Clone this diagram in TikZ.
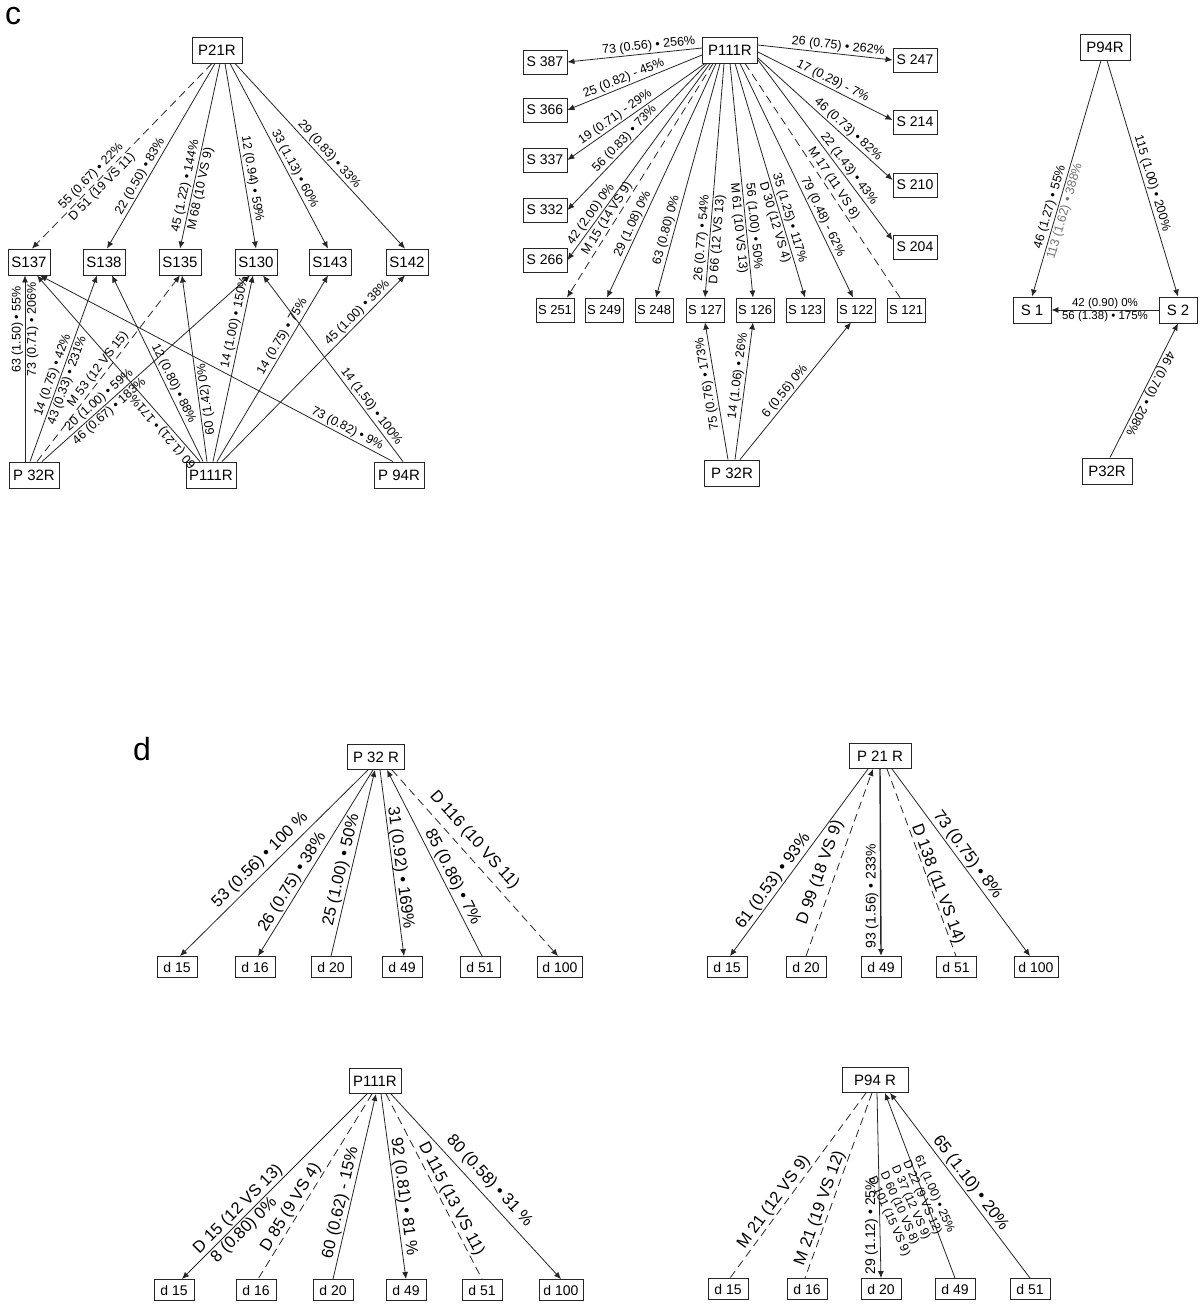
\documentclass[tikz,border=0pt]{standalone}
\usepackage{fontspec}
\setmainfont{Liberation Sans}
\usetikzlibrary{arrows.meta}
\begin{document}
\begin{tikzpicture}[x=1pt,y=-1pt,
  bx/.style={draw=black!85, line width=0.9pt, inner sep=1pt, fill=white},
  pb/.style={bx, minimum width=50pt, minimum height=26pt, font=\fontsize{15}{15}\selectfont},
  sb/.style={bx, minimum width=42pt, minimum height=26pt, font=\fontsize{15}{15}\selectfont},
  mb/.style={bx, minimum width=44pt, minimum height=24pt, font=\fontsize{14}{14}\selectfont},
  nb/.style={bx, minimum width=38pt, minimum height=24pt, font=\fontsize{13}{13}\selectfont},
  db/.style={bx, minimum width=40pt, minimum height=21pt, font=\fontsize{14}{14}\selectfont},
  dp/.style={bx, minimum height=25pt, font=\fontsize{15}{15}\selectfont},
  ln/.style={line width=0.8pt, draw=black!85},
  ar/.style={ln, -{Latex[length=7pt,width=6pt]}},
  dsh/.style={dash pattern=on 8pt off 5pt},
  lb/.style={font=\fontsize{12.5}{13}\selectfont, inner sep=1.5pt, sloped},
  lbn/.style={font=\fontsize{12.5}{13}\selectfont, inner sep=1.5pt},
  lbs/.style={font=\fontsize{11.5}{12}\selectfont, inner sep=1pt},
  lbd/.style={font=\fontsize{16.5}{17}\selectfont, inner sep=1.5pt, sloped},
  lbv/.style={font=\fontsize{14}{14}\selectfont, inner sep=1.5pt},
  upd/.style={allow upside down},
]
\useasboundingbox[fill=white] (0,0) rectangle (1199,1311);

% ---------- panel letters ----------
\node[anchor=base west, inner sep=0pt, font=\fontsize{32}{32}\selectfont] (lc) at (5,25) {c};
\node[anchor=base west, inner sep=0pt, font=\fontsize{32}{32}\selectfont] (ld) at (133,760) {d};

% ---------- c, left graph ----------
\node[pb] (p21a) at (217,50) {P21R};
\node[sb] (s137) at (29,262) {S137};
\node[sb] (s138) at (104,262) {S138};
\node[sb] (s135) at (180,262) {S135};
\node[sb] (s130) at (256,262) {S130};
\node[sb] (s143) at (330,262) {S143};
\node[sb] (s142) at (407,262) {S142};
\node[pb] (p32a) at (34,475) {P 32R};
\node[pb] (p111a) at (211,475) {P111R};
\node[pb] (p94a) at (399,475) {P 94R};

\draw[ar,dsh] ([xshift=-5pt]p21a.south) -- ([xshift=3pt]s137.north)
  node[lb,pos=0.64,above]{55 (0.67) • 22\%} node[lb,pos=0.64,below]{D 51 (19 VS 11)};
\draw[ar] ([xshift=-2pt]p21a.south) -- ([xshift=3pt]s138.north)
  node[lb,pos=0.63,above]{22 (0.50) • 83\%};
\draw[ar] ([xshift=3pt]p21a.south) -- (s135.north)
  node[lb,pos=0.67,above]{45 (1.22) • 144\%} node[lb,pos=0.67,below]{M 68 (10 VS 9)};
\draw[ar] ([xshift=8pt]p21a.south) -- (s130.north)
  node[lb,pos=0.63,above]{12 (0.94) • 59\%};
\draw[ar] ([xshift=13pt]p21a.south) -- ([xshift=-2pt]s143.north)
  node[lb,pos=0.59,above]{33 (1.13) • 60\%};
\draw[ar] ([xshift=18pt]p21a.south) -- ([xshift=-2pt]s142.north)
  node[lb,pos=0.52,above]{29 (0.83) • 33\%};

\draw[ar] ([xshift=-9pt]p32a.north) -- ([xshift=-4pt]s137.south)
  node[lbn,pos=0.71,rotate=90,anchor=south]{63 (1.50) • 55\%}
  node[lbn,pos=0.71,rotate=90,anchor=north]{73 (0.71) • 206\%};
\draw[ar] ([xshift=-4pt]p32a.north) -- ([xshift=-7pt]s138.south)
  node[lb,pos=0.45,above]{14 (0.75) • 42\%} node[lb,pos=0.45,below]{43 (0.33) • 231\%};
\draw[ar,dsh] ([xshift=3pt]p32a.north) -- (s135.south)
  node[lb,pos=0.47,above]{M 53 (12 VS 15)};
\draw[ar] ([xshift=8pt]p32a.north) -- ([xshift=-6pt]s130.south)
  node[lb,pos=0.30,above]{20 (1.00) • 59\%} node[lb,pos=0.30,below]{46 (0.67) • 183\%};
\draw[ar] ([xshift=-11pt]p111a.north) -- ([xshift=8pt]s137.south)
  node[lb,upd,pos=0.19,above]{60 (1.21) • 171\%};
\draw[ar] ([xshift=-8pt]p111a.north) -- ([xshift=8pt]s138.south)
  node[lb,pos=0.40,above]{12 (0.80) • 88\%};
\draw[ar] ([xshift=-4pt]p111a.north) -- ([xshift=2pt]s135.south)
  node[lb,upd,pos=0.33,below]{60 (1.42) 0\%};
\draw[ar] ([xshift=2pt]p111a.north) -- ([xshift=-3pt]s130.south)
  node[lb,pos=0.74,above]{14 (1.00) • 150\%};
\draw[ar] ([xshift=6pt]p111a.north) -- ([xshift=-2pt]s143.south)
  node[lb,pos=0.65,above]{14 (0.75) • 75\%};
\draw[ar] ([xshift=11pt]p111a.north) -- ([xshift=-2pt]s142.south)
  node[lb,pos=0.77,above]{45 (1.00) • 38\%};
\draw[ar] ([xshift=-6pt]p94a.north) -- ([xshift=11pt]s137.south)
  node[lb,pos=0.14,above]{73 (0.82) • 9\%};
\draw[ar] ([xshift=4pt]p94a.north) -- ([xshift=7pt]s130.south)
  node[lb,pos=0.27,above]{14 (1.50) • 100\%};

% ---------- c, middle graph ----------
\node[pb, minimum width=55pt] (p111b) at (730,50) {P111R};
\node[mb] (s387) at (545,62) {S 387};
\node[mb] (s366) at (545,110) {S 366};
\node[mb] (s337) at (545,160) {S 337};
\node[mb] (s332) at (545,210) {S 332};
\node[mb] (s266) at (545,260) {S 266};
\node[mb] (s247) at (915,60) {S 247};
\node[mb] (s214) at (915,122) {S 214};
\node[mb] (s210) at (915,185) {S 210};
\node[mb] (s204) at (915,247) {S 204};
\node[nb] (s251) at (555,310) {S 251};
\node[nb] (s249) at (604,310) {S 249};
\node[nb] (s248) at (654,310) {S 248};
\node[nb] (s127) at (705,310) {S 127};
\node[nb] (s126) at (755,310) {S 126};
\node[nb] (s123) at (805,310) {S 123};
\node[nb] (s122) at (856,310) {S 122};
\node[nb] (s121) at (906,310) {S 121};
\node[pb, minimum width=55pt] (p32b) at (732,473) {P 32R};

\draw[ar] ([yshift=2pt]p111b.west) -- (s387.east)
  node[lb,pos=0.39,above]{73 (0.56) • 256\%};
\draw[ar] ([yshift=-5pt]p111b.west) -- (s366.east)
  node[lb,pos=0.56,above]{25 (0.82) - 45\%};
\draw[ar] ([xshift=3pt]p111b.south west) -- (s337.east)
  node[lb,pos=0.62,above]{19 (0.71) - 29\%};
\draw[ar] ([xshift=5pt]p111b.south west) -- (s332.east)
  node[lb,pos=0.55,above]{56 (0.83) • 73\%};
\draw[ar] ([xshift=8pt]p111b.south west) -- (s266.east)
  node[lb,pos=0.79,above]{42 (2.00) 0\%};
\draw[ar,dsh] ([xshift=11pt]p111b.south west) -- ([xshift=12pt]s251.north)
  node[lb,pos=0.68,above]{M 15 (14 VS 9)};
\draw[ar] ([xshift=14pt]p111b.south west) -- ([xshift=3pt]s249.north)
  node[lb,pos=0.70,above]{29 (1.08) 0\%};
\draw[ar] ([xshift=18pt]p111b.south west) -- ([xshift=2pt]s248.north)
  node[lb,pos=0.72,above]{63 (0.80) 0\%};
\draw[ar] ([xshift=-6pt]p111b.south) -- (s127.north)
  node[lb,pos=0.75,above]{26 (0.77) • 54\%} node[lb,pos=0.75,below]{D 66 (12 VS 13)};
\draw[ar] (p111b.south) -- ([xshift=-2pt]s126.north)
  node[lb,pos=0.70,below]{M 61 (10 VS 13)} node[lb,pos=0.70,above]{56 (1.00) • 50\%};
\draw[ar] ([xshift=5pt]p111b.south) -- (s123.north)
  node[lb,pos=0.67,below]{D 30 (12 VS 4)} node[lb,pos=0.67,above]{35 (1.25) • 117\%};
\draw[ar] ([xshift=10pt]p111b.south) -- ([xshift=-3pt]s122.north)
  node[lb,pos=0.67,above]{79 (0.48) - 62\%};
\draw[ln,dsh] ([xshift=15pt]p111b.south) -- ([xshift=-6pt]s121.north)
  node[lb,pos=0.53,above]{M 17 (11 VS 8)};
\draw[ar] ([yshift=-10pt]p111b.east) -- ([yshift=7pt]s204.west)
  node[lb,pos=0.63,above]{22 (1.43) • 43\%};
\draw[ar] ([yshift=-8pt]p111b.east) -- ([yshift=5pt]s210.west)
  node[lb,pos=0.63,above]{46 (0.73) • 82\%};
\draw[ar] ([yshift=-2pt]p111b.east) -- ([yshift=2pt]s214.west)
  node[lb,pos=0.53,above]{17 (0.29) - 7\%};
\draw[ar] ([yshift=5pt]p111b.east) -- (s247.west)
  node[lb,pos=0.59,above]{26 (0.75) • 262\%};

\draw[ar] ([xshift=-4pt]p32b.north) -- (s127.south)
  node[lb,upd,pos=0.56,above]{75 (0.76) • 173\%};
\draw[ar] ([xshift=3pt]p32b.north) -- ([xshift=-2pt]s126.south)
  node[lb,pos=0.60,above]{14 (1.06) • 26\%};
\draw[ar] ([xshift=8pt]p32b.north) -- ([xshift=-5pt]s122.south)
  node[lb,pos=0.46,above]{6 (0.56) 0\%};

% ---------- c, right graph ----------
\node[pb] (p94c) at (1105,47) {P94R};
\node[sb, minimum width=38pt] (s1c) at (1032,310) {S 1};
\node[sb, minimum width=38pt] (s2c) at (1178,310) {S 2};
\node[pb] (p32c) at (1107,471) {P32R};

\draw[ar] ([xshift=-4pt]p94c.south) -- (s1c.north)
  node[lb,pos=0.63,above]{46 (1.27) • 55\%}
  node[lb,pos=0.63,below,text=black!55]{113 (1.62) • 388\%};
\draw[ar] ([xshift=2pt]p94c.south) -- (s2c.north)
  node[lb,pos=0.53,above]{115 (1.00) • 200\%};
\draw[ar] (s2c.west) -- (s1c.east)
  node[lbs,midway,above]{42 (0.90) 0\%} node[lbs,midway,below]{56 (1.38) • 175\%};
\draw[ar] ([xshift=3pt]p32c.north) -- (s2c.south);
\path (s2c.south) -- ([xshift=3pt]p32c.north)
  node[lb,upd,pos=0.5,above=-1pt]{46 (0.70) • 208\%};

% ---------- d, P32R ----------
\node[dp, minimum width=57pt] (p32d) at (376,757) {P 32 R};
\node[db] (d15a) at (177,967) {d 15};
\node[db] (d16a) at (255,967) {d 16};
\node[db] (d20a) at (331,967) {d 20};
\node[db] (d49a) at (402,967) {d 49};
\node[db] (d51a) at (480,967) {d 51};
\node[db, minimum width=45pt] (d100a) at (560,967) {d 100};

\draw[ar] ([xshift=-8pt]p32d.south) -- ([xshift=3pt]d15a.north)
  node[lbd,pos=0.53,above=2pt]{53 (0.56) • 100 \%};
\draw[ar] ([xshift=-3pt]p32d.south) -- ([xshift=3pt]d16a.north)
  node[lbd,pos=0.63,above]{26 (0.75) • 38\%};
\draw[ar] (d20a.north) -- ([xshift=-1pt]p32d.south)
  node[lbd,pos=0.45,above]{25 (1.00) • 50\%};
\draw[ar] ([xshift=4pt]p32d.south) -- ([xshift=2pt]d49a.north)
  node[lbd,pos=0.53,above=-2pt]{31 (0.92) • 169\%};
\draw[ar] ([xshift=2pt]d51a.north) -- ([xshift=11pt]p32d.south)
  node[lbd,pos=0.40,above]{85 (0.86) • 7\%};
\draw[ar,dsh] ([xshift=16pt]p32d.south) -- ([xshift=-2pt]d100a.north)
  node[lbd,pos=0.43,above=5pt]{D 116 (10 VS 11)};

% ---------- d, P21R ----------
\node[dp, minimum width=62pt] (p21d) at (880,756) {P 21 R};
\node[db] (d15b) at (727,967) {d 15};
\node[db] (d20b) at (806,967) {d 20};
\node[db] (d49b) at (881,967) {d 49};
\node[db] (d51b) at (956,967) {d 51};
\node[db, minimum width=44pt] (d100b) at (1036,967) {d 100};

\draw[ar] ([xshift=-12pt]p21d.south) -- ([xshift=3pt]d15b.north)
  node[lbd,pos=0.63,above]{61 (0.53) • 93\%};
\draw[ar,dsh] (d20b.north) -- ([xshift=-7pt]p21d.south)
  node[lbd,pos=0.42,above=5pt]{D 99 (18 VS 9)};
\draw[ar, line width=1.4pt] (p21d.south) -- (d49b.north)
  node[lbv,pos=0.68,rotate=90,anchor=south]{93 (1.56) • 233\%};
\draw[ln,dsh] ([xshift=7pt]p21d.south) -- (d51b.north)
  node[lbd,pos=0.63,above=-2pt]{D 138 (11 VS 14)};
\draw[ar] ([xshift=12pt]p21d.south) -- ([xshift=-6pt]d100b.north)
  node[lbd,pos=0.49,above]{73 (0.75) • 8\%};

% ---------- d, P111R ----------
\node[dp, minimum width=52pt] (p111d) at (375,1081) {P111R};
\node[db] (d15c) at (174,1290) {d 15};
\node[db] (d16c) at (256,1290) {d 16};
\node[db] (d20c) at (333,1290) {d 20};
\node[db] (d49c) at (406,1290) {d 49};
\node[db] (d51c) at (482,1290) {d 51};
\node[db, minimum width=44pt] (d100c) at (561,1290) {d 100};

\draw[ar] ([xshift=-8pt]p111d.south) -- ([xshift=8pt]d15c.north)
  node[lbd,pos=0.66,above]{D 15 (12 VS 13)} node[lbd,pos=0.70,below]{8 (0.80) 0\%};
\draw[ln,dsh] ([xshift=-3pt]p111d.south) -- ([xshift=2pt]d16c.north)
  node[lbd,pos=0.64,above]{D 85 (9 VS 4)};
\draw[ar] (d20c.north) -- ([xshift=1pt]p111d.south)
  node[lbd,pos=0.40,above]{60 (0.62) - 15\%};
\draw[ar] ([xshift=6pt]p111d.south) -- (d49c.north)
  node[lbd,pos=0.56,above=-1pt]{92 (0.81) • 81 \%};
\draw[ln,dsh] ([xshift=11pt]p111d.south) -- (d51c.north)
  node[lbd,pos=0.59,above]{D 115 (13 VS 11)};
\draw[ar] ([xshift=16pt]p111d.south) -- (d100c.north)
  node[lbd,pos=0.52,above=4pt]{80 (0.58) • 31 \%};

% ---------- d, P94R ----------
\node[dp, minimum width=66pt] (p94d) at (875,1080) {P94 R};
\node[db] (d15d) at (728,1289) {d 15};
\node[db] (d16d) at (807,1289) {d 16};
\node[db] (d20d) at (881,1289) {d 20};
\node[db] (d49d) at (955,1289) {d 49};
\node[db] (d51d) at (1030,1289) {d 51};

\draw[ln,dsh] ([xshift=-9pt]p94d.south) -- ([xshift=2pt]d15d.north)
  node[lbd,pos=0.62,above]{M 21 (12 VS 9)};
\draw[ln,dsh] ([xshift=-3pt]p94d.south) -- ([xshift=-2pt]d16d.north)
  node[lbd,pos=0.64,above]{M 21 (19 VS 12)};
\draw[ar] ([xshift=2pt]p94d.south) -- (d20d.north)
  node[lbv,pos=0.72,rotate=90,anchor=south]{29 (1.12) • 25\%};
\draw[ar] (d49d.north) -- ([xshift=10pt]p94d.south);
\draw[ar] (d51d.north) -- ([xshift=15pt]p94d.south)
  node[lbd,pos=0.48,above]{65 (1.10) • 20\%};
\node[font=\fontsize{12}{12.5}\selectfont, align=left, rotate=-66, inner sep=0pt] (stk) at (912,1206)
  {61 (1.00) • 25\%\\D 22 (9 VS 12)\\D 37 (12 VS 9)\\D 60 (10 VS 8)\\D 101 (15 VS 9)};

\end{tikzpicture}
\end{document}
